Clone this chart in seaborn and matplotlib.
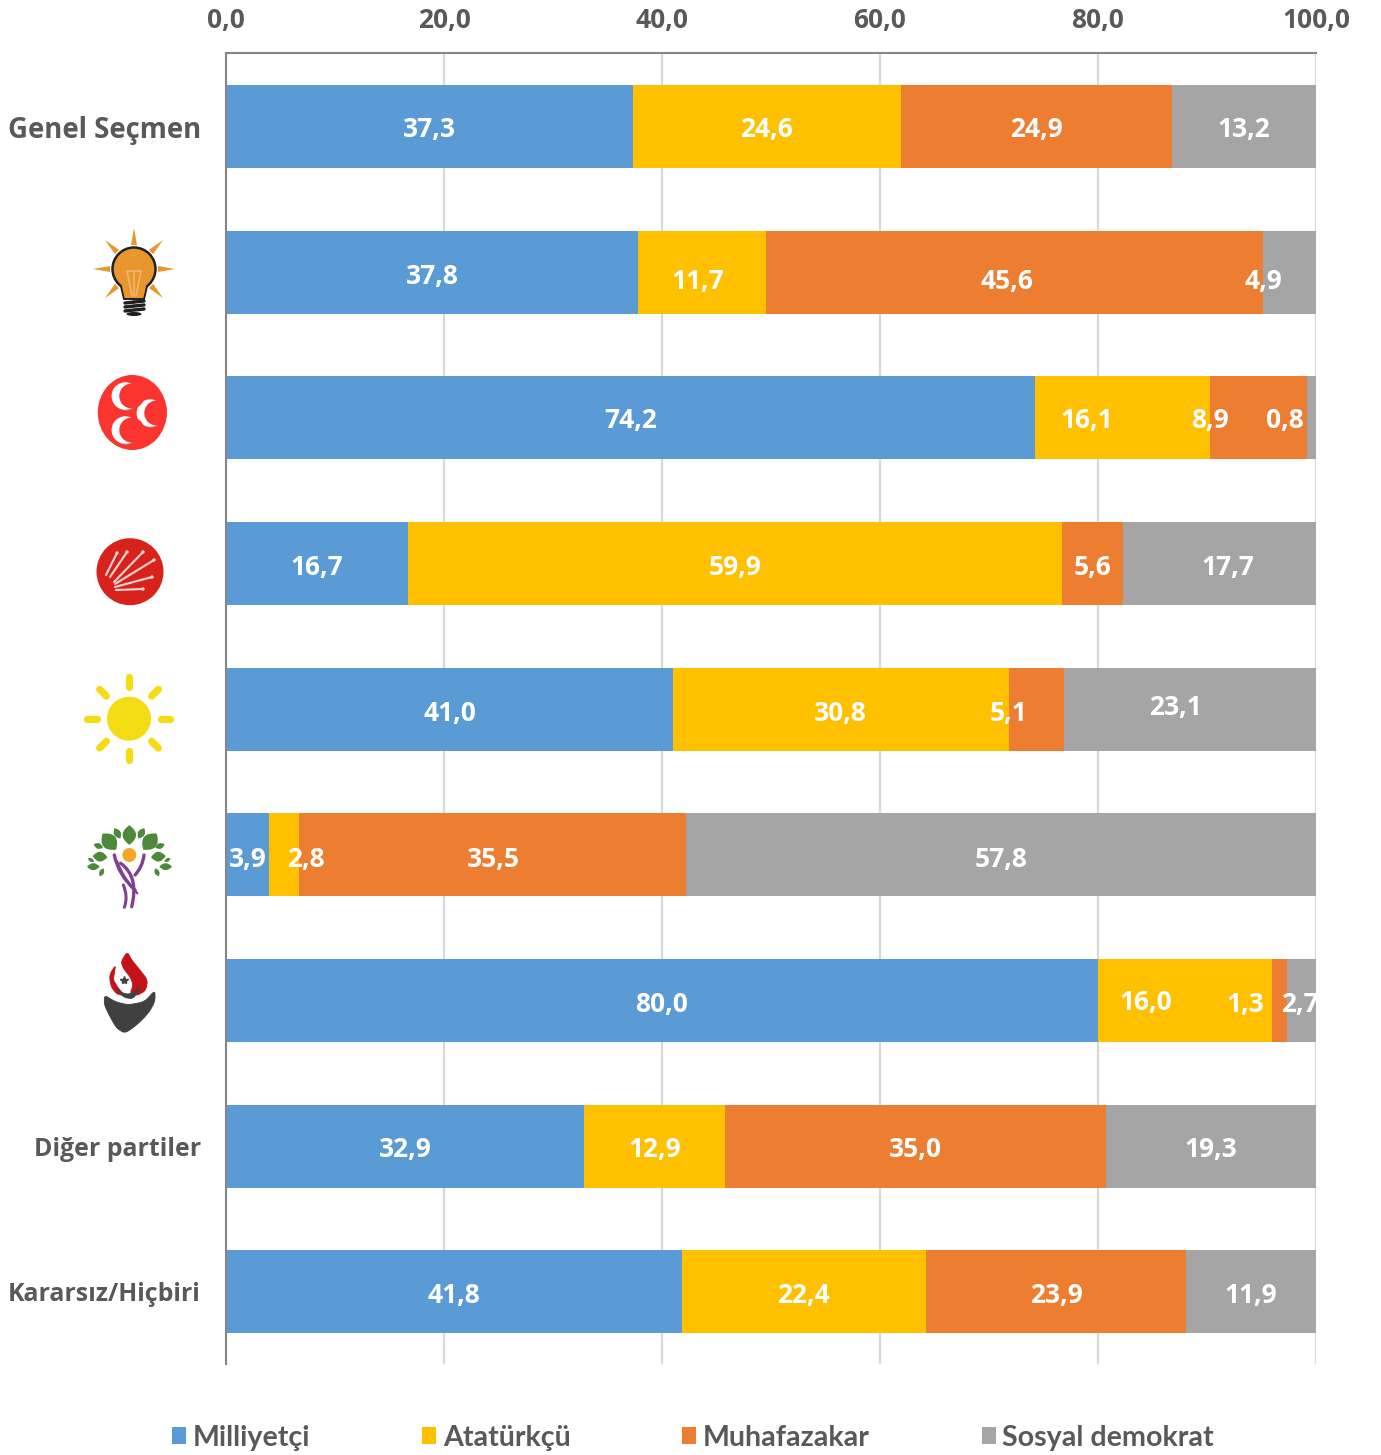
import numpy as np
import pandas as pd
import seaborn as sns
import matplotlib.pyplot as plt
from matplotlib.patches import Circle, Ellipse, Patch, PathPatch, Polygon
from matplotlib.path import Path

# Data
groups = ["Genel Seçmen", "AKP", "MHP", "CHP", "İYİ", "HDP", "BBP", "Diğer partiler", "Kararsız/Hiçbiri"]
tick_labels = ["Genel Seçmen", "", "", "", "", "", "", "Diğer partiler", "Kararsız/Hiçbiri"]
milliyetci = [37.3, 37.8, 74.2, 16.7, 41.0, 3.9, 80.0, 32.9, 41.8]
ataturkcu = [24.6, 11.7, 16.1, 59.9, 30.8, 2.8, 16.0, 12.9, 22.4]
muhafazakar = [24.9, 45.6, 8.9, 5.6, 5.1, 35.5, 1.3, 35.0, 23.9]
sosyal = [13.2, 4.9, 0.8, 17.7, 23.1, 57.8, 2.7, 19.3, 11.9]
series_names = ["Milliyetçi", "Atatürkçü", "Muhafazakar", "Sosyal demokrat"]
colors = ["#5B9BD5", "#FFC000", "#ED7D31", "#A5A5A5"]
x_ticks = [0, 20, 40, 60, 80, 100]

W, H = 1381, 1455
FONT = "Open Sans"

# labels that were dragged by hand in the original: (row, series) -> dx, dy in pixels
nudge_x = {(1, 1): -4, (1, 2): -7, (1, 3): -26, (2, 1): -36, (2, 2): -49, (2, 3): -27, (3, 3): 8,
           (4, 2): -28, (4, 3): -15, (5, 0): 1, (5, 1): 22, (5, 2): 1, (6, 1): -39, (6, 2): -34, (6, 3): -1}
nudge_y = {0: 1, 1: 7, 2: 0, 3: 2, 4: 2, 5: 2, 6: 2, 7: 1, 8: 1}
nudge_y_cell = {(1, 0): 2, (4, 3): -4, (6, 1): 0}

df = pd.DataFrame({"grup": groups, series_names[0]: milliyetci, series_names[1]: ataturkcu,
                   series_names[2]: muhafazakar, series_names[3]: sosyal})
values = df[series_names].to_numpy()
cum = values.cumsum(axis=1) / values.sum(axis=1, keepdims=True) * 100

sns.set_style("white")
plt.rcParams["font.family"] = [FONT, "DejaVu Sans"]
fig = plt.figure(figsize=(W / 100, H / 100), dpi=100)
ax = fig.add_axes([226 / W, 1 - 1364 / H, 1090 / W, 1311 / H])

# stacked bars: the cumulative bars go longest first
ax.set_axisbelow(True)
for i in range(3, -1, -1):
    d = pd.DataFrame({"grup": groups, "v": cum[:, i]})
    sns.barplot(data=d, y="grup", x="v", order=groups, color=colors[i], saturation=1,
                width=0.57, orient="h", ax=ax, zorder=2, linewidth=0, edgecolor="none")

ax.set_xlim(0, 100)
ax.set_ylim(8.495, -0.505)
ax.set_xlabel("")
ax.set_ylabel("")
ax.xaxis.tick_top()
ax.set_xticks(x_ticks)
ax.set_xticklabels([f"{t:.1f}".replace(".", ",") for t in x_ticks], fontsize=19,
                   fontweight="bold", color="#595959")
ax.set_yticks(range(len(groups)))
ax.set_yticklabels(tick_labels, fontsize=17.9, fontweight="bold", color="#595959")
ax.get_yticklabels()[0].set_fontsize(19.8)
ax.tick_params(axis="x", length=0, pad=14)
ax.tick_params(axis="y", length=0, pad=18)
ax.grid(axis="x", color="#D9D9D9", lw=1.6, zorder=0)
for s in ["right", "bottom"]:
    ax.spines[s].set_visible(False)
for s in ["top", "left"]:
    ax.spines[s].set_color("#868686")
    ax.spines[s].set_linewidth(1.5)

# overlay in pixel coordinates for value labels and logos
ov = fig.add_axes([0, 0, 1, 1], zorder=5)
ov.set_xlim(0, W)
ov.set_ylim(H, 0)
ov.axis("off")
ov.patch.set_alpha(0)

for r in range(len(groups)):
    yc = 53 + 1311 * (r + 0.5) / len(groups)
    for i in range(4):
        left = cum[r, i - 1] if i else 0
        xc = 226 + (left + cum[r, i]) / 2 * 10.9 + nudge_x.get((r, i), 0)
        dy = nudge_y_cell.get((r, i), nudge_y[r])
        ov.text(xc, yc + dy + 3, f"{values[r, i]:.1f}".replace(".", ","), color="white", fontsize=19,
                fontweight="bold", ha="center", va="center", clip_on=False)


def curve(pts, color, lw=0, z=6):
    # open ribbon through control points
    verts = [pts[0]]
    codes = [Path.MOVETO]
    for k in range(1, len(pts) - 1, 2):
        verts += [pts[k], pts[k + 1]]
        codes += [Path.CURVE3, Path.CURVE3]
    ov.add_patch(PathPatch(Path(verts, codes), fc="none", ec=color, lw=lw, zorder=z, capstyle="round"))


def leaf(cx, cy, w, h, angle, color):
    # pointed lens, long axis h, turned by angle degrees
    t = np.radians(angle)
    rot = lambda u, v: (cx + u * np.cos(t) - v * np.sin(t), cy + u * np.sin(t) + v * np.cos(t))
    verts = [rot(0, -h / 2), rot(w, 0), rot(0, h / 2), rot(-w, 0), rot(0, -h / 2)]
    codes = [Path.MOVETO, Path.CURVE3, Path.CURVE3, Path.CURVE3, Path.CURVE3]
    ov.add_patch(PathPatch(Path(verts, codes), fc=color, ec="none", zorder=6))


# AKP bulb
akp = "#E8962E"
cx, cy = 134, 269
for a in range(8):
    t = a * np.pi / 4
    b = t + np.pi / 2
    ov.add_patch(Polygon([(cx + 41 * np.cos(t), cy + 41 * np.sin(t)),
                          (cx + 24 * np.cos(t) + 3 * np.cos(b), cy + 24 * np.sin(t) + 3 * np.sin(b)),
                          (cx + 24 * np.cos(t) - 3 * np.cos(b), cy + 24 * np.sin(t) - 3 * np.sin(b))],
                         fc=akp, ec="none", zorder=6))
ov.add_patch(Polygon([(120, 284), (148, 284), (144, 299), (124, 299)], fc="white", ec="none", zorder=6))
ov.add_patch(Polygon([(120, 282), (148, 282), (144, 299), (124, 299)], fc=akp, ec="#222222", lw=1.4, zorder=7))
ov.add_patch(Circle((cx, cy), 21.5, fc=akp, ec="#222222", lw=1.8, zorder=7))
ov.add_patch(Polygon([(121, 282), (147, 282), (143, 298), (125, 298)], fc=akp, ec="none", zorder=8))
for (x0, y0, x1, y1) in [(127, 271, 132, 296), (141, 271, 136, 296), (127, 271, 141, 271), (134, 272, 134, 296)]:
    ov.plot([x0, x1], [y0, y1], color="#F2B878", lw=1.1, zorder=9)
for y0 in [302, 306, 310]:
    ov.plot([125, 144], [y0 + 1, y0 - 1], color="#1E1E1E", lw=2.4, zorder=8, solid_capstyle="round")
ov.add_patch(Ellipse((134, 314), 15, 4, fc="#1E1E1E", ec="none", zorder=8))

# MHP crescents
mhp_disc = Ellipse((132.3, 412.5), 69, 75, fc="#FB3430", ec="none", zorder=6)
ov.add_patch(mhp_disc)
for (x0, y0) in [(125.3, 396), (150.3, 413), (125.3, 430)]:
    ov.add_patch(Circle((x0 + 0.6, y0 + 0.8), 13.7, fc="#B98A88", ec="none", zorder=7))
    ov.add_patch(Circle((x0, y0), 13.7, fc="white", ec="none", zorder=7))
    inner = Circle((x0 + 6.5, y0), 12.5, fc="#FB3430", ec="none", zorder=8)
    ov.add_patch(inner)
    inner.set_clip_path(mhp_disc)

# CHP six arrows
ov.add_patch(Circle((130, 571.7), 33.5, fc="#D8231C", ec="none", zorder=6))
for (x0, y0, x1, y1) in [(106, 575, 117, 553), (110, 577, 127, 552), (114, 582, 143, 552),
                         (115, 584, 154, 560), (115, 587, 152, 577), (116, 590, 143, 589)]:
    ov.plot([x0, x1], [y0, y1], color="#F6D5D2", lw=1.5, zorder=7, solid_capstyle="round")
    ov.add_patch(Circle((x1, y1), 1.7, fc="#F6D5D2", ec="none", zorder=7))

# IYI sun
sun = "#F4DC14"
cx, cy = 129, 718.7
ov.add_patch(Circle((cx, cy), 22, fc=sun, ec="none", zorder=6))
for a in range(8):
    t = a * np.pi / 4
    ov.plot([cx + 32 * np.cos(t), cx + 41.5 * np.cos(t)], [cy + 32 * np.sin(t), cy + 41.5 * np.sin(t)],
            color=sun, lw=5.2, solid_capstyle="round", zorder=6)


def z4(x, y):
    return 80 + x / 3, 820 + y / 3


def z3(x, y):
    return 95 + x / 3, 945 + y / 3


def blob(pts, color, z=6):
    # corner cutting rounds off the outline
    p = np.array([z3(*q) for q in pts])
    for _ in range(2):
        n = np.roll(p, -1, axis=0)
        p = np.column_stack([0.8 * p + 0.2 * n, 0.2 * p + 0.8 * n]).reshape(-1, 2)
    ov.add_patch(Polygon(p, fc=color, ec=color, lw=0.6, joinstyle="round", zorder=z))


# HDP tree
green = "#4C8A3A"
leaves = [(148, 45, 30, 56, 0), (88, 65, 34, 60, -40), (210, 65, 34, 60, 40), (112, 40, 16, 34, -30),
          (184, 40, 16, 34, 30), (60, 110, 22, 42, -85), (235, 110, 22, 42, 85), (55, 78, 13, 28, -70),
          (240, 78, 13, 28, 70), (40, 140, 16, 36, 90), (257, 140, 16, 36, 90), (33, 120, 8, 20, -60),
          (262, 120, 8, 20, 60), (65, 157, 11, 25, 25), (231, 157, 11, 25, -25)]
for (x, y, w, h, a) in leaves:
    leaf(*z4(x, y), w / 3 * 1.35, h / 3 * 1.05, a, green)
ov.add_patch(Circle(z4(148, 105), 7, fc="#F6A72A", ec="none", zorder=6))
purple = "#7F3F93"
for pts, lw in [([(103, 105), (115, 165), (165, 210)], 2.4), ([(122, 130), (178, 170), (155, 260)], 2.4),
                ([(130, 195), (145, 230), (133, 262)], 2.2), ([(192, 105), (188, 140), (165, 165)], 2.4),
                ([(112, 125), (130, 175), (172, 220)], 1.6)]:
    curve([z4(*p) for p in pts], purple, lw=lw)

# flame and bowl
red = "#C31218"
dark = "#404040"
blob([(28, 150), (60, 170), (100, 180), (150, 170), (180, 135), (180, 170), (160, 205), (125, 240), (90, 265),
      (65, 250), (45, 215), (28, 180)], dark)
blob([(97, 20), (78, 50), (85, 70), (105, 95), (115, 120), (105, 145), (125, 152), (152, 137), (158, 105),
      (135, 75), (110, 45)], red, z=7)
blob([(62, 60), (43, 90), (48, 125), (65, 147), (88, 152), (67, 125), (55, 105), (58, 85)], red, z=7)
blob([(63, 128), (85, 157), (115, 162), (138, 122), (120, 140), (100, 148), (80, 143)], dark, z=8)
ov.plot(*z3(88, 105), marker="*", ms=6, color=dark, zorder=10)

# legend
handles = [Patch(fc=c, ec="none", label=n) for c, n in zip(colors, series_names)]
leg = fig.legend(handles=handles, loc="lower left", bbox_to_anchor=(172 / W, 4 / H), ncol=4, frameon=False,
                 prop={"family": "Lato", "weight": "bold", "size": 20.6}, handlelength=0.49, handleheight=0.53,
                 handletextpad=0.24, columnspacing=3.9, labelcolor="#595959", borderpad=0, borderaxespad=0)

fig.savefig("out.png", dpi=100)
